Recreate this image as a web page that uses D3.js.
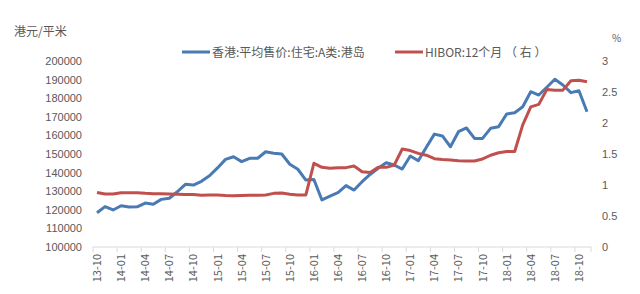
<!DOCTYPE html>
<html lang="zh">
<head>
<meta charset="utf-8">
<title>港岛A类住宅均价与HIBOR</title>
<script src="https://cdn.jsdelivr.net/npm/d3@7"></script>
<style>
  body { margin: 0; background: #fff; }
  svg { display: block; font-family: "Noto Sans CJK SC", "Noto Sans", sans-serif; }
  .tk text { fill: #595959; font-size: 11px; }
</style>
</head>
<body>
<script>
// categories: months 13-10 .. 18-11
var months = [
  "13-10","13-11","13-12","14-01","14-02","14-03","14-04","14-05","14-06","14-07","14-08","14-09",
  "14-10","14-11","14-12","15-01","15-02","15-03","15-04","15-05","15-06","15-07","15-08","15-09",
  "15-10","15-11","15-12","16-01","16-02","16-03","16-04","16-05","16-06","16-07","16-08","16-09",
  "16-10","16-11","16-12","17-01","17-02","17-03","17-04","17-05","17-06","17-07","17-08","17-09",
  "17-10","17-11","17-12","18-01","18-02","18-03","18-04","18-05","18-06","18-07","18-08","18-09",
  "18-10","18-11"
];

// 香港:平均售价:住宅:A类:港岛 (港元/平米)
var price = [
  118400,121700,119900,122200,121500,121600,123600,123000,125600,126200,129700,133700,
  133300,135300,138300,142500,147100,148500,145900,147700,147700,151200,150400,150000,
  144500,141800,136000,136300,125300,127400,129200,133000,130600,135100,139000,142300,
  145300,144100,141900,148900,146400,153600,160700,159700,153900,162000,164000,158400,
  158400,163800,164700,171500,172200,175400,183500,181700,185900,190200,187100,183000,
  184000,172700
];

// HIBOR:12个月 (%)
var hibor = [
  0.88,0.855,0.855,0.875,0.875,0.875,0.865,0.86,0.86,0.855,0.85,0.845,
  0.845,0.835,0.84,0.84,0.83,0.825,0.83,0.835,0.835,0.84,0.865,0.87,
  0.85,0.84,0.84,1.35,1.285,1.27,1.28,1.28,1.305,1.215,1.2,1.285,
  1.285,1.32,1.58,1.555,1.51,1.48,1.425,1.41,1.405,1.39,1.387,1.387,
  1.42,1.48,1.52,1.54,1.54,1.97,2.26,2.3,2.54,2.53,2.53,2.68,
  2.69,2.665
];

var leftTicks = [100000,110000,120000,130000,140000,150000,160000,170000,180000,190000,200000];
var rightTicks = [0,0.5,1,1.5,2,2.5,3];

var w = 640, h = 294;
var plotL = 93, plotR = 591, plotT = 61, plotB = 247;

var svg = d3.select("body").append("svg").attr("width", w).attr("height", h);

var x = d3.scaleBand().domain(d3.range(months.length)).range([plotL, plotR]).padding(0);
var yL = d3.scaleLinear().domain([100000, 200000]).range([plotB, plotT]);
var yR = d3.scaleLinear().domain([0, 3]).range([plotB, plotT]);

// left axis
var axL = svg.append("g").attr("class", "tk").attr("transform", "translate(" + (plotL - 2) + ",0)")
  .call(d3.axisLeft(yL).tickValues(leftTicks).tickSize(0).tickPadding(9).tickFormat(d3.format("d")));
axL.select(".domain").remove();

// right axis
var axR = svg.append("g").attr("class", "tk").attr("transform", "translate(" + (plotR + 3) + ",0)")
  .call(d3.axisRight(yR).tickValues(rightTicks).tickSize(0).tickPadding(8).tickFormat(d3.format("")));
axR.select(".domain").remove();

// bottom axis
svg.append("line").attr("x1", plotL).attr("x2", plotR).attr("y1", plotB).attr("y2", plotB)
  .style("stroke", "#d9d9d9").style("stroke-width", 1);

var tickIdx = d3.range(0, months.length, 3);
svg.selectAll(".xt").data(tickIdx.concat([months.length])).enter().append("line")
  .attr("x1", function(i) { return i < months.length ? x(i) : plotR; })
  .attr("x2", function(i) { return i < months.length ? x(i) : plotR; })
  .attr("y1", plotB).attr("y2", plotB + 5)
  .style("stroke", "#d9d9d9");

svg.selectAll(".xl").data(tickIdx).enter().append("text")
  .attr("transform", function(i) {
    return "translate(" + (x(i) + x.bandwidth() / 2 + 4) + "," + (plotB + 7) + ") rotate(-90)";
  })
  .attr("text-anchor", "end")
  .style("font-size", "11px").style("fill", "#595959")
  .text(function(i) { return months[i]; });

// lines
var lineL = d3.line().x(function(d, i) { return x(i) + x.bandwidth() / 2; }).y(function(d) { return yL(d); });
var lineR = d3.line().x(function(d, i) { return x(i) + x.bandwidth() / 2; }).y(function(d) { return yR(d); });

svg.append("path").datum(price).attr("d", lineL)
  .style("fill", "none").style("stroke", "#4a7ab3").style("stroke-width", 3).style("stroke-linejoin", "round");
svg.append("path").datum(hibor).attr("d", lineR)
  .style("fill", "none").style("stroke", "#c0504d").style("stroke-width", 3).style("stroke-linejoin", "round");

// axis titles
svg.append("text").attr("x", 14).attr("y", 36).style("font-size", "12px").style("fill", "#595959").text("港元/平米");
svg.append("text").attr("x", 612).attr("y", 42).style("font-size", "10px").style("fill", "#595959").text("%");

// legend
var legend = [
  { name: "香港:平均售价:住宅:A类:港岛", color: "#4a7ab3", x: 182 },
  { name: "HIBOR:12个月 （ 右 ）", color: "#c0504d", x: 395 }
];
var lg = svg.selectAll(".lg").data(legend).enter().append("g")
  .attr("transform", function(d) { return "translate(" + d.x + ",52)"; });
lg.append("line").attr("x1", 0).attr("x2", 28).style("stroke", function(d) { return d.color; }).style("stroke-width", 3);
lg.append("text").attr("x", 30).attr("y", 4.5).style("font-size", "12px").style("fill", "#595959")
  .text(function(d) { return d.name; });
</script>
</body>
</html>
